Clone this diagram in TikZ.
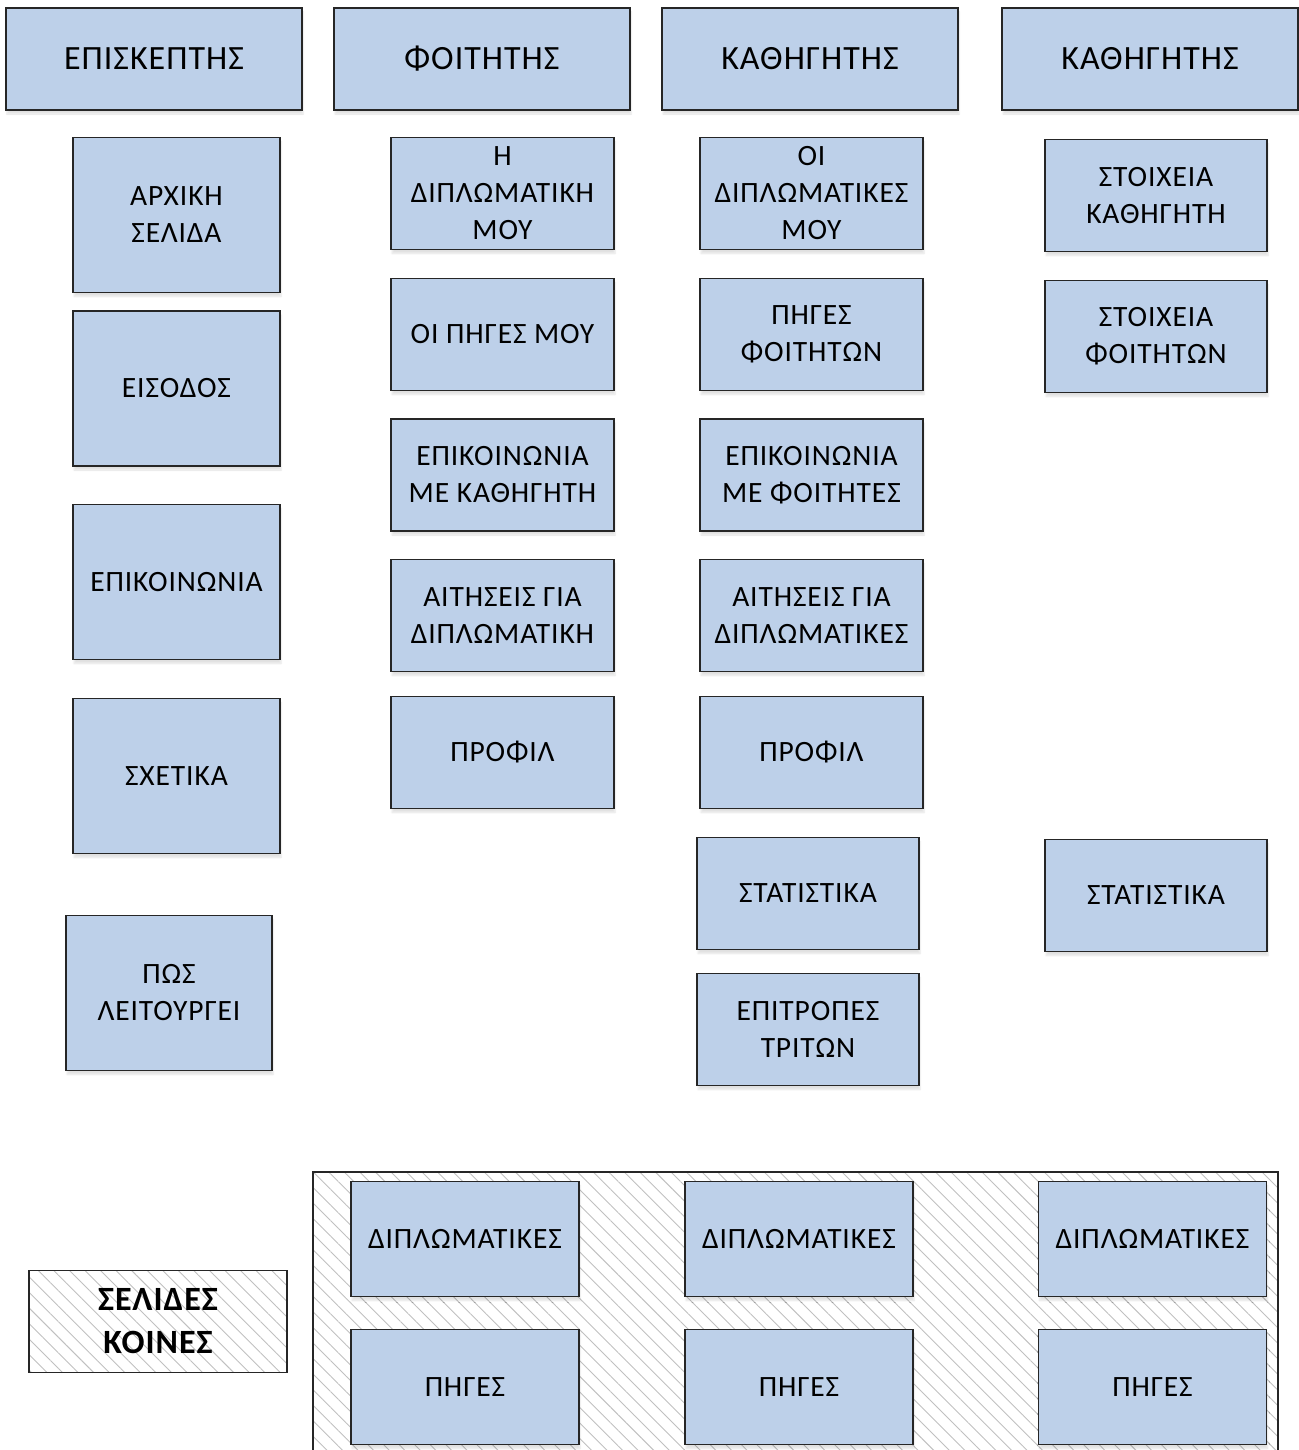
\documentclass[tikz,border=0pt]{standalone}
\usepackage{fontspec}
\setmainfont{Carlito}[LetterSpace=3]
\usetikzlibrary{patterns.meta,shadows.blur}
\definecolor{boxblue}{RGB}{189,208,233}
\definecolor{hatchgray}{RGB}{192,192,192}
\begin{document}
\begin{tikzpicture}[x=1pt,y=-1pt,
  base/.style={draw=black!85,line width=1.6pt,align=center,inner sep=0pt},
  page/.style={base,fill=boxblue,
    blur shadow={shadow blur steps=6,shadow xshift=1pt,shadow yshift=-4pt,shadow opacity=12},
    font=\fontsize{29.5}{37}\selectfont},
  header/.style={page,minimum width=296pt,minimum height=102pt,
    font=\fontsize{34}{40}\selectfont},
  tall/.style={page,minimum width=207pt,minimum height=155pt},
  wide/.style={page,minimum width=223pt,minimum height=112pt},
  shared/.style={page,minimum width=228pt,minimum height=115pt},
  hatch/.style={pattern={Lines[angle=-45,distance=11pt,line width=0.9pt]},pattern color=hatchgray}]
\useasboundingbox (0,0) rectangle (1298,1450);

% role headers
\node[header] (h1) at (154,59)  {ΕΠΙΣΚΕΠΤΗΣ};
\node[header] (h2) at (482,59)  {ΦΟΙΤΗΤΗΣ};
\node[header] (h3) at (810,59)  {ΚΑΘΗΓΗΤΗΣ};
\node[header] (h4) at (1150,59) {ΚΑΘΗΓΗΤΗΣ};

% visitor pages
\node[tall] (v1) at (176.5,215) {ΑΡΧΙΚΗ\\ΣΕΛΙΔΑ};
\node[tall] (v2) at (176.5,388.5) {ΕΙΣΟΔΟΣ};
\node[tall] (v3) at (176.5,582) {ΕΠΙΚΟΙΝΩΝΙΑ};
\node[tall] (v4) at (176.5,776) {ΣΧΕΤΙΚΑ};
\node[tall,minimum width=206pt] (v5) at (169,993) {ΠΩΣ\\ΛΕΙΤΟΥΡΓΕΙ};

% student pages
\node[wide] (s1) at (502.5,193.5) {Η\\ΔΙΠΛΩΜΑΤΙΚΗ\\ΜΟΥ};
\node[wide] (s2) at (502.5,334.5) {ΟΙ ΠΗΓΕΣ ΜΟΥ};
\node[wide] (s3) at (502.5,475)   {ΕΠΙΚΟΙΝΩΝΙΑ\\ΜΕ ΚΑΘΗΓΗΤΗ};
\node[wide] (s4) at (502.5,615.5) {ΑΙΤΗΣΕΙΣ ΓΙΑ\\ΔΙΠΛΩΜΑΤΙΚΗ};
\node[wide] (s5) at (502.5,752.5) {ΠΡΟΦΙΛ};

% professor pages
\node[wide] (p1) at (811.5,193.5) {ΟΙ\\ΔΙΠΛΩΜΑΤΙΚΕΣ\\ΜΟΥ};
\node[wide] (p2) at (811.5,334.5) {ΠΗΓΕΣ\\ΦΟΙΤΗΤΩΝ};
\node[wide] (p3) at (811.5,475)   {ΕΠΙΚΟΙΝΩΝΙΑ\\ΜΕ ΦΟΙΤΗΤΕΣ};
\node[wide] (p4) at (811.5,615.5) {ΑΙΤΗΣΕΙΣ ΓΙΑ\\ΔΙΠΛΩΜΑΤΙΚΕΣ};
\node[wide] (p5) at (811.5,752.5) {ΠΡΟΦΙΛ};
\node[wide,minimum width=222pt] (p6) at (808,893.5)  {ΣΤΑΤΙΣΤΙΚΑ};
\node[wide,minimum width=222pt] (p7) at (808,1029.5) {ΕΠΙΤΡΟΠΕΣ\\ΤΡΙΤΩΝ};

% second professor column
\node[wide,minimum width=222pt] (q1) at (1156,195.5) {ΣΤΟΙΧΕΙΑ\\ΚΑΘΗΓΗΤΗ};
\node[wide,minimum width=222pt] (q2) at (1156,336.5) {ΣΤΟΙΧΕΙΑ\\ΦΟΙΤΗΤΩΝ};
\node[wide,minimum width=222pt] (q3) at (1156,895.5) {ΣΤΑΤΙΣΤΙΚΑ};

% shared pages area
\path[hatch] (313,1172) rectangle (1278,1470);
\draw[black!85,line width=1.6pt] (313,1470) -- (313,1172) -- (1278,1172) -- (1278,1470);
\node[base,hatch,minimum width=258pt,minimum height=102pt,
  font=\fontsize{34}{43}\selectfont\bfseries] (legend) at (158,1321.5) {ΣΕΛΙΔΕΣ\\ΚΟΙΝΕΣ};

\node[shared] (c1) at (465,1239)    {ΔΙΠΛΩΜΑΤΙΚΕΣ};
\node[shared] (c2) at (799,1239)    {ΔΙΠΛΩΜΑΤΙΚΕΣ};
\node[shared] (c3) at (1152.5,1239) {ΔΙΠΛΩΜΑΤΙΚΕΣ};
\node[shared] (d1) at (465,1387)    {ΠΗΓΕΣ};
\node[shared] (d2) at (799,1387)    {ΠΗΓΕΣ};
\node[shared] (d3) at (1152.5,1387) {ΠΗΓΕΣ};
\end{tikzpicture}
\end{document}
